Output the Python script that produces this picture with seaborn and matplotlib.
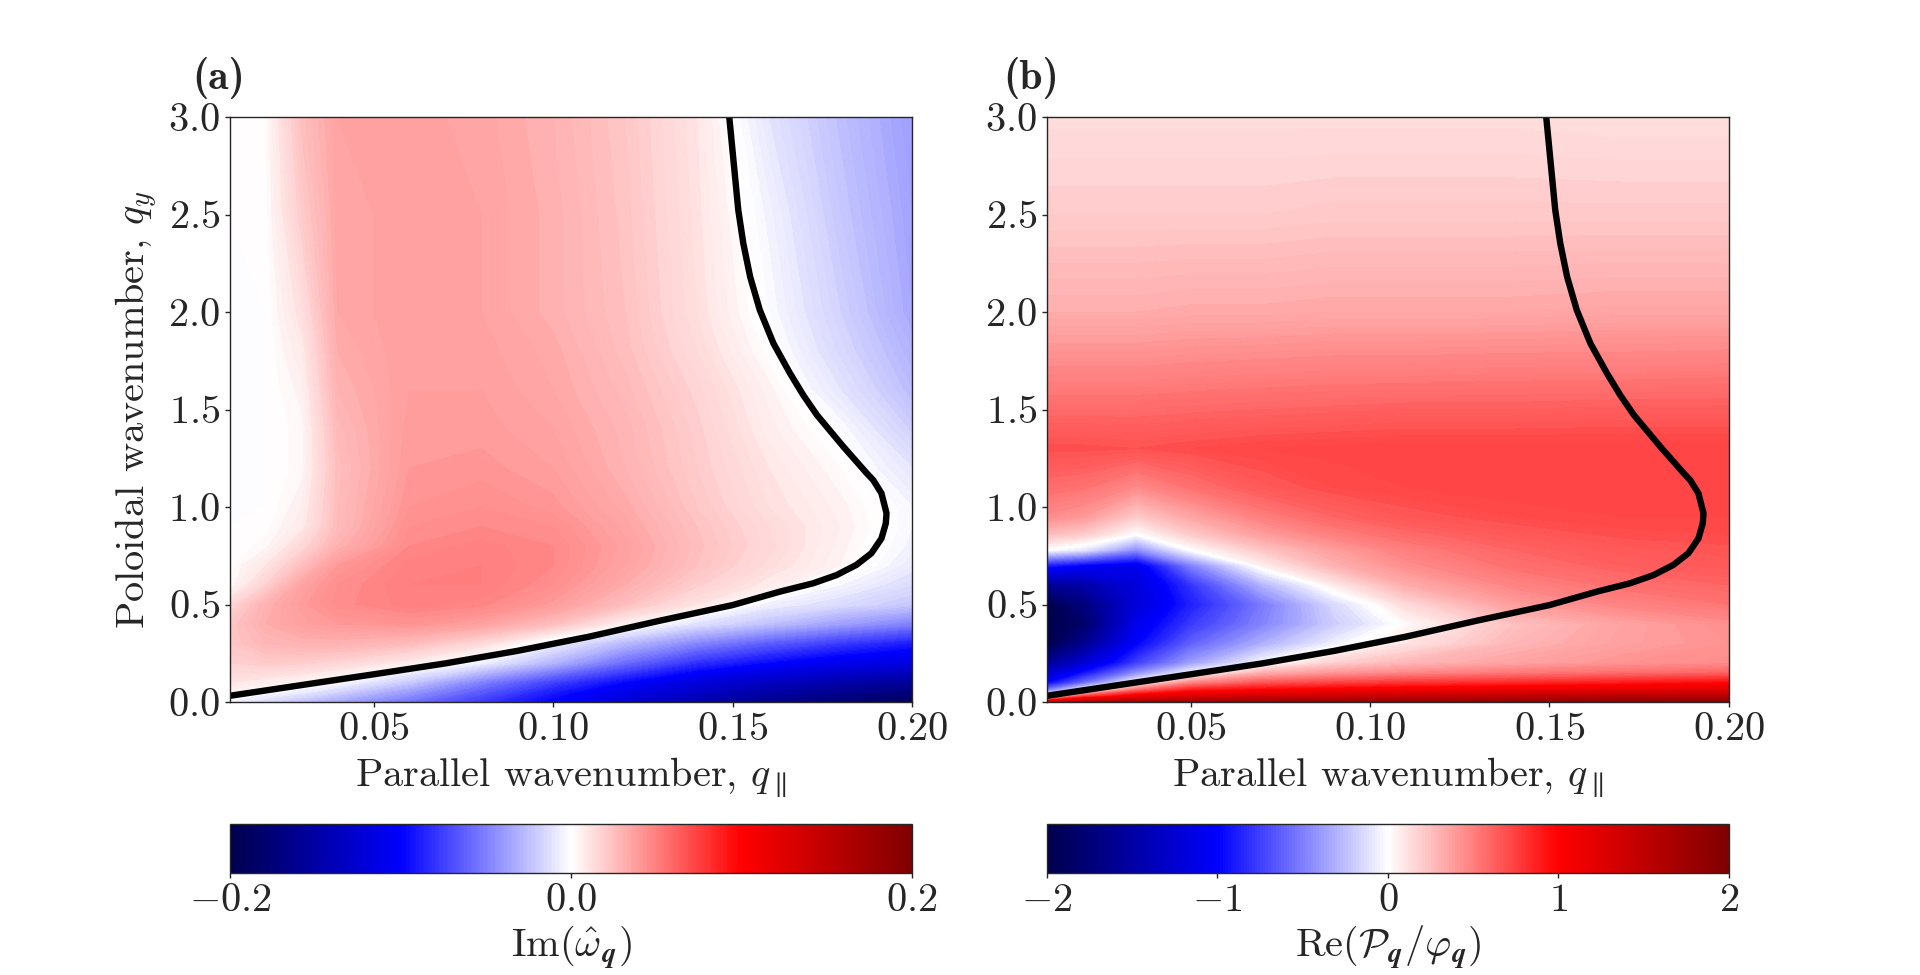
import numpy as np
import matplotlib
matplotlib.use("Agg")
import matplotlib.pyplot as plt
import matplotlib.colors as mcolors
import seaborn as sns

# grid nodes
qpar_a = [0.01, 0.02, 0.03, 0.04, 0.06, 0.08, 0.10, 0.12, 0.14, 0.16, 0.18, 0.20]
qy_a = [0.0, 0.05, 0.1, 0.2, 0.3, 0.4, 0.5, 0.6, 0.7, 0.8, 0.9, 1.0, 1.2, 1.4, 1.6, 1.8, 2.0, 2.5, 3.0]

# Im(omega_q), one row per qy value
im_omega = [
    [-0.005, -0.015, -0.025, -0.035, -0.055, -0.078, -0.100, -0.125, -0.145, -0.163, -0.178, -0.190],
    [0.004, -0.002, -0.008, -0.018, -0.040, -0.065, -0.090, -0.112, -0.132, -0.150, -0.163, -0.175],
    [0.010, 0.007, 0.003, -0.002, -0.022, -0.050, -0.075, -0.098, -0.120, -0.135, -0.148, -0.158],
    [0.018, 0.020, 0.019, 0.016, 0.007, -0.006, -0.030, -0.058, -0.082, -0.098, -0.110, -0.118],
    [0.022, 0.028, 0.030, 0.030, 0.026, 0.014, -0.006, -0.028, -0.048, -0.064, -0.078, -0.090],
    [0.022, 0.032, 0.037, 0.040, 0.042, 0.037, 0.025, 0.005, -0.012, -0.025, -0.038, -0.050],
    [0.015, 0.030, 0.039, 0.045, 0.049, 0.047, 0.039, 0.025, 0.010, -0.006, -0.014, -0.022],
    [0.002, 0.018, 0.036, 0.044, 0.050, 0.050, 0.044, 0.032, 0.019, 0.008, -0.004, -0.014],
    [0.001, 0.010, 0.025, 0.040, 0.049, 0.050, 0.046, 0.036, 0.024, 0.013, 0.004, -0.008],
    [0.000, 0.003, 0.015, 0.030, 0.046, 0.049, 0.046, 0.037, 0.025, 0.015, 0.005, -0.005],
    [0.000, 0.001, 0.008, 0.026, 0.044, 0.046, 0.044, 0.035, 0.024, 0.014, 0.006, -0.004],
    [0.000, 0.000, 0.006, 0.026, 0.042, 0.044, 0.041, 0.033, 0.022, 0.012, 0.005, -0.004],
    [0.000, 0.000, 0.003, 0.025, 0.040, 0.041, 0.038, 0.030, 0.020, 0.010, 0.002, -0.010],
    [0.000, 0.000, 0.003, 0.027, 0.039, 0.039, 0.036, 0.029, 0.019, 0.007, -0.002, -0.019],
    [0.000, 0.000, 0.005, 0.030, 0.038, 0.038, 0.034, 0.027, 0.017, 0.005, -0.010, -0.026],
    [0.000, 0.000, 0.008, 0.032, 0.038, 0.037, 0.033, 0.025, 0.014, 0.001, -0.015, -0.030],
    [0.000, 0.000, 0.012, 0.034, 0.038, 0.036, 0.031, 0.024, 0.012, -0.002, -0.018, -0.034],
    [0.000, 0.001, 0.020, 0.035, 0.037, 0.036, 0.031, 0.023, 0.011, -0.005, -0.022, -0.036],
    [0.000, 0.002, 0.025, 0.036, 0.037, 0.035, 0.030, 0.022, 0.010, -0.010, -0.025, -0.038],
]

qpar_b = [0.01, 0.02, 0.035, 0.05, 0.07, 0.09, 0.11, 0.14, 0.17, 0.20]
qy_b = [0.0, 0.03, 0.06, 0.1, 0.15, 0.2, 0.3, 0.4, 0.5, 0.6, 0.7, 0.78, 0.86, 0.95,
        1.1, 1.3, 1.5, 1.7, 2.0, 2.5, 3.0]

# Re(P_q / phi_q), one row per qy value
re_ratio = [
    [1.30, 1.60, 1.70, 1.75, 1.80, 1.80, 1.80, 1.82, 1.85, 1.85],
    [0.00, 0.70, 1.10, 1.25, 1.35, 1.40, 1.45, 1.50, 1.55, 1.55],
    [-0.50, 0.00, 0.60, 0.90, 1.00, 1.05, 1.10, 1.15, 1.20, 1.25],
    [-1.00, -0.60, 0.00, 0.45, 0.65, 0.72, 0.78, 0.82, 0.88, 0.95],
    [-1.30, -0.95, -0.45, -0.05, 0.30, 0.40, 0.46, 0.52, 0.56, 0.60],
    [-1.60, -1.25, -0.75, -0.38, -0.02, 0.18, 0.28, 0.36, 0.42, 0.45],
    [-2.00, -1.65, -1.00, -0.62, -0.32, -0.06, 0.10, 0.28, 0.37, 0.42],
    [-2.00, -1.85, -1.10, -0.78, -0.48, -0.20, 0.02, 0.24, 0.36, 0.44],
    [-2.00, -1.75, -1.20, -0.88, -0.52, -0.15, 0.14, 0.38, 0.48, 0.54],
    [-1.60, -1.50, -1.20, -0.80, -0.30, 0.08, 0.32, 0.48, 0.56, 0.60],
    [-0.90, -1.00, -1.10, -0.50, 0.06, 0.30, 0.44, 0.56, 0.62, 0.65],
    [0.00, -0.10, -0.45, 0.00, 0.22, 0.38, 0.50, 0.60, 0.65, 0.67],
    [0.25, 0.20, 0.00, 0.20, 0.38, 0.50, 0.58, 0.65, 0.69, 0.70],
    [0.45, 0.40, 0.20, 0.35, 0.50, 0.60, 0.66, 0.70, 0.72, 0.72],
    [0.57, 0.55, 0.45, 0.55, 0.65, 0.70, 0.72, 0.74, 0.74, 0.74],
    [0.69, 0.69, 0.68, 0.70, 0.72, 0.73, 0.74, 0.74, 0.74, 0.74],
    [0.58, 0.58, 0.58, 0.59, 0.60, 0.61, 0.62, 0.62, 0.63, 0.63],
    [0.47, 0.47, 0.47, 0.48, 0.49, 0.50, 0.50, 0.51, 0.51, 0.52],
    [0.32, 0.32, 0.32, 0.33, 0.33, 0.34, 0.34, 0.34, 0.35, 0.35],
    [0.20, 0.20, 0.20, 0.20, 0.20, 0.21, 0.21, 0.21, 0.21, 0.21],
    [0.13, 0.13, 0.13, 0.13, 0.13, 0.13, 0.13, 0.13, 0.12, 0.12],
]

# marginal stability curve (same in both panels)
curve_qpar = [0.0100, 0.0300, 0.0500, 0.0700, 0.0900, 0.1100, 0.1300, 0.1500, 0.1632,
              0.1725, 0.1790, 0.1845, 0.1887, 0.1915, 0.1927, 0.1929, 0.1915, 0.1892,
              0.1874, 0.1809, 0.1735, 0.1697, 0.1660, 0.1614, 0.1576, 0.1549, 0.1530,
              0.1516, 0.1507, 0.1498, 0.1491]
curve_qy = [0.032, 0.087, 0.142, 0.198, 0.262, 0.335, 0.418, 0.497, 0.566,
            0.609, 0.651, 0.703, 0.763, 0.839, 0.916, 0.968, 1.070, 1.138,
            1.173, 1.309, 1.472, 1.574, 1.686, 1.839, 2.010, 2.181, 2.352,
            2.523, 2.694, 2.865, 2.998]

x_ticks = [0.05, 0.10, 0.15, 0.20]
y_ticks = [0.0, 0.5, 1.0, 1.5, 2.0, 2.5, 3.0]

sns.set_style("ticks")
plt.rcParams["font.family"] = "serif"
plt.rcParams["font.serif"] = ["cmr10"]
plt.rcParams["mathtext.fontset"] = "cm"
plt.rcParams["axes.formatter.use_mathtext"] = True
plt.rcParams["font.size"] = 29
plt.rcParams["axes.linewidth"] = 1.0
plt.rcParams["xtick.major.width"] = 1.0
plt.rcParams["ytick.major.width"] = 1.0

fig = plt.figure(figsize=(19.2, 9.75), dpi=100)
ax_a = fig.add_axes([0.1198, 0.280, 0.3552, 0.600])
ax_b = fig.add_axes([0.5453, 0.280, 0.3552, 0.600])
cax_a = fig.add_axes([0.1198, 0.1046, 0.3552, 0.0503])
cax_b = fig.add_axes([0.5453, 0.1046, 0.3552, 0.0503])

panels = [
    (ax_a, cax_a, qpar_a, qy_a, im_omega, 0.2, [-0.2, 0.0, 0.2],
     r"$\mathrm{Im}(\hat{\omega}_{\boldsymbol{q}})$", "(a)", 0.100),
    (ax_b, cax_b, qpar_b, qy_b, re_ratio, 2.0, [-2, -1, 0, 1, 2],
     r"$\mathrm{Re}(\mathcal{P}_{\boldsymbol{q}}/\varphi_{\boldsymbol{q}})$", "(b)", 0.5224),
]

for ax, cax, gx, gy, field, vmax, cticks, clabel, tag, tag_x in panels:
    X, Y = np.meshgrid(gx, gy)
    Z = np.array(field)
    ax.contourf(X, Y, Z, levels=np.linspace(-vmax, vmax, 201), cmap="seismic", extend="both")
    sns.lineplot(x=curve_qpar, y=curve_qy, sort=False, estimator=None, color="black",
                 lw=4.6, ax=ax)
    ax.lines[0].set_solid_joinstyle("round")
    ax.lines[0].set_solid_capstyle("butt")
    ax.set_xlim(0.01, 0.20)
    ax.set_ylim(0.0, 3.0)
    ax.set_xticks(x_ticks)
    ax.set_yticks(y_ticks)
    ax.set_xlabel(r"Parallel wavenumber, $q_\parallel$", labelpad=6)

    sm = plt.cm.ScalarMappable(norm=mcolors.Normalize(-vmax, vmax), cmap="seismic")
    cb = fig.colorbar(sm, cax=cax, orientation="horizontal")
    cb.set_ticks(cticks)
    cb.set_label(clabel)
    cb.outline.set_linewidth(1.0)

    fig.text(tag_x, 0.9205, tag, fontsize=30, family="cmb10", ha="left", va="center")

ax_a.set_ylabel(r"Poloidal wavenumber, $q_y$", labelpad=6)

fig.savefig("out.png", dpi=100)
